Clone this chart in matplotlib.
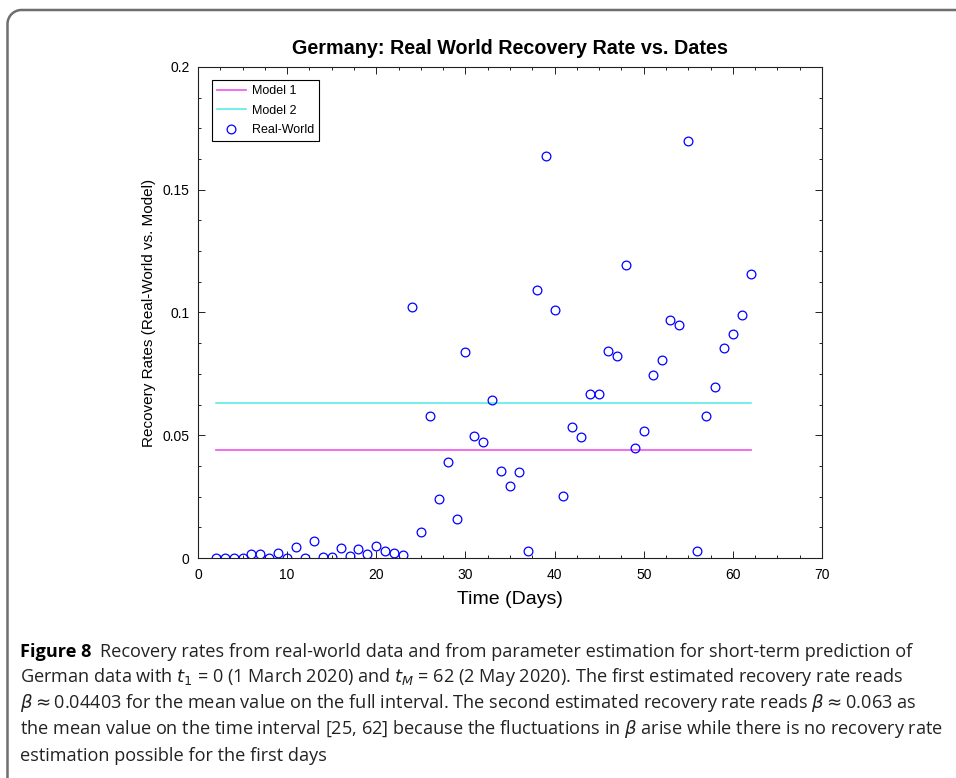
import numpy as np
import matplotlib
matplotlib.use("Agg")
import matplotlib.pyplot as plt
from matplotlib.ticker import MultipleLocator, FuncFormatter
from matplotlib.lines import Line2D

# ---------------- data ----------------
days = list(range(2, 63))
real_world = [0, 0, 0, 0, 0.0015, 0.0015, 0, 0.002, 0, 0.0043,
              0, 0.0069, 0.0005, 0.0005, 0.0039, 0.001, 0.0035, 0.0018, 0.0047, 0.003,
              0.002, 0.0012, 0.1022, 0.0105, 0.0577, 0.0242, 0.0392, 0.0159, 0.0839, 0.0498,
              0.0473, 0.0644, 0.0353, 0.0293, 0.0349, 0.003, 0.1093, 0.1636, 0.101, 0.0254,
              0.0534, 0.0494, 0.0668, 0.0668, 0.0843, 0.0823, 0.1192, 0.0448, 0.0519, 0.0747,
              0.0807, 0.097, 0.0949, 0.1699, 0.0027, 0.0578, 0.0697, 0.0855, 0.0911, 0.0991,
              0.1156]
model1_value = 0.04403
model2_value = 0.063
model_days = [2, 62]
series_labels = ["Model 1", "Model 2", "Real-World"]
title = "Germany: Real World Recovery Rate vs. Dates"
xlabel = "Time (Days)"
ylabel = "Recovery Rates (Real-World vs. Model)"
caption_bold = "Figure 8"
caption_lines = [
    "Recovery rates from real-world data and from parameter estimation for short-term prediction of",
    "German data with $t_1$ = 0 (1 March 2020) and $t_M$ = 62 (2 May 2020). The first estimated recovery rate reads",
    r"$\beta \approx$0.04403 for the mean value on the full interval. The second estimated recovery rate reads $\beta \approx$0.063 as",
    r"the mean value on the time interval [25, 62] because the fluctuations in $\beta$ arise while there is no recovery rate",
    "estimation possible for the first days",
]

# ---------------- figure ----------------
W, H = 956, 778
fig = plt.figure(figsize=(W / 100, H / 100), dpi=100)
plt.rcParams['mathtext.fontset'] = 'dejavusans'

def fx(px):
    return px / W

def fy(py):
    return 1 - py / H

# rounded border (top-left corner)
r = 14
x0, y0 = 7.5, 10.0
ang = np.linspace(np.pi, np.pi / 2, 20)
cx, cy = x0 + r, y0 + r
arc_x = cx + r * np.cos(ang)
arc_y = cy - r * np.sin(ang)
bx = np.concatenate([[x0], arc_x, [W + 5]])
by = np.concatenate([[H + 5], arc_y, [y0]])
fig.add_artist(Line2D(fx(bx), fy(by), transform=fig.transFigure,
                      color='#6e6e6e', lw=1.8, solid_capstyle='butt'))

ax_left, ax_right, ax_top, ax_bot = 198, 822, 67, 558
ax = fig.add_axes([fx(ax_left), fy(ax_bot), (ax_right - ax_left) / W, (ax_bot - ax_top) / H])

ax.plot(model_days, [model1_value] * 2, color='#f060f0', lw=1.3, label=series_labels[0])
ax.plot(model_days, [model2_value] * 2, color='#50e8e8', lw=1.1, label=series_labels[1])
ax.plot(days, real_world, linestyle='none', marker='o', markersize=6.3,
        markerfacecolor='none', markeredgecolor='#0000ff', markeredgewidth=0.9,
        label=series_labels[2])

ax.set_xlim(0, 70)
ax.set_ylim(0, 0.2)
ax.xaxis.set_major_locator(MultipleLocator(10))
ax.xaxis.set_minor_locator(MultipleLocator(2.5))
ax.yaxis.set_major_locator(MultipleLocator(0.05))
ax.yaxis.set_minor_locator(MultipleLocator(0.0125))
ax.yaxis.set_major_formatter(FuncFormatter(lambda v, p: "%g" % round(v, 4)))
ax.tick_params(which='both', direction='in', top=True, right=True, width=0.7, colors='#222222')
ax.tick_params(which='major', length=5, labelsize=10)
ax.tick_params(axis='x', which='major', pad=7)
ax.tick_params(axis='y', which='major', pad=6)
ax.tick_params(which='minor', length=2.5)
for lab in ax.get_xticklabels() + ax.get_yticklabels():
    lab.set_fontfamily('Liberation Sans')
    lab.set_color('black')
for s in ax.spines.values():
    s.set_linewidth(0.8)
    s.set_color('#222222')

ax.set_title(title, fontfamily='Liberation Sans', fontweight='bold', fontsize=14.2, pad=9)
ax.set_xlabel(xlabel, fontfamily='Liberation Sans', fontsize=14, labelpad=7)
ax.set_ylabel(ylabel, fontfamily='Liberation Sans', fontsize=11, labelpad=5)

leg = ax.legend(loc='upper left', bbox_to_anchor=(0.0224, 0.9735), borderaxespad=0,
                prop={'family': 'Liberation Sans', 'size': 9}, fancybox=False,
                edgecolor='black', framealpha=1, handlelength=2.3, labelspacing=0.6,
                handletextpad=0.5, borderpad=0.4)
leg.get_frame().set_linewidth(0.8)

# ---------------- caption ----------------
cap_font = 'Open Sans'
cap_size = 13.1
line_y = [652, 677, 703, 729, 756]
renderer = fig.canvas.get_renderer()
tb = fig.text(fx(20), fy(line_y[0]), caption_bold, fontfamily=cap_font, fontweight='bold',
              fontsize=cap_size, va='center', ha='left', color='black')
bb = tb.get_window_extent(renderer)
fig.text(fx(bb.x1 + 9), fy(line_y[0]), caption_lines[0], fontfamily=cap_font,
         fontsize=cap_size, va='center', ha='left', color='#222222')
for ln, yy in zip(caption_lines[1:], line_y[1:]):
    fig.text(fx(20), fy(yy), ln, fontfamily=cap_font, fontsize=cap_size,
             va='center', ha='left', color='#222222')

fig.savefig('out.png', dpi=100)
